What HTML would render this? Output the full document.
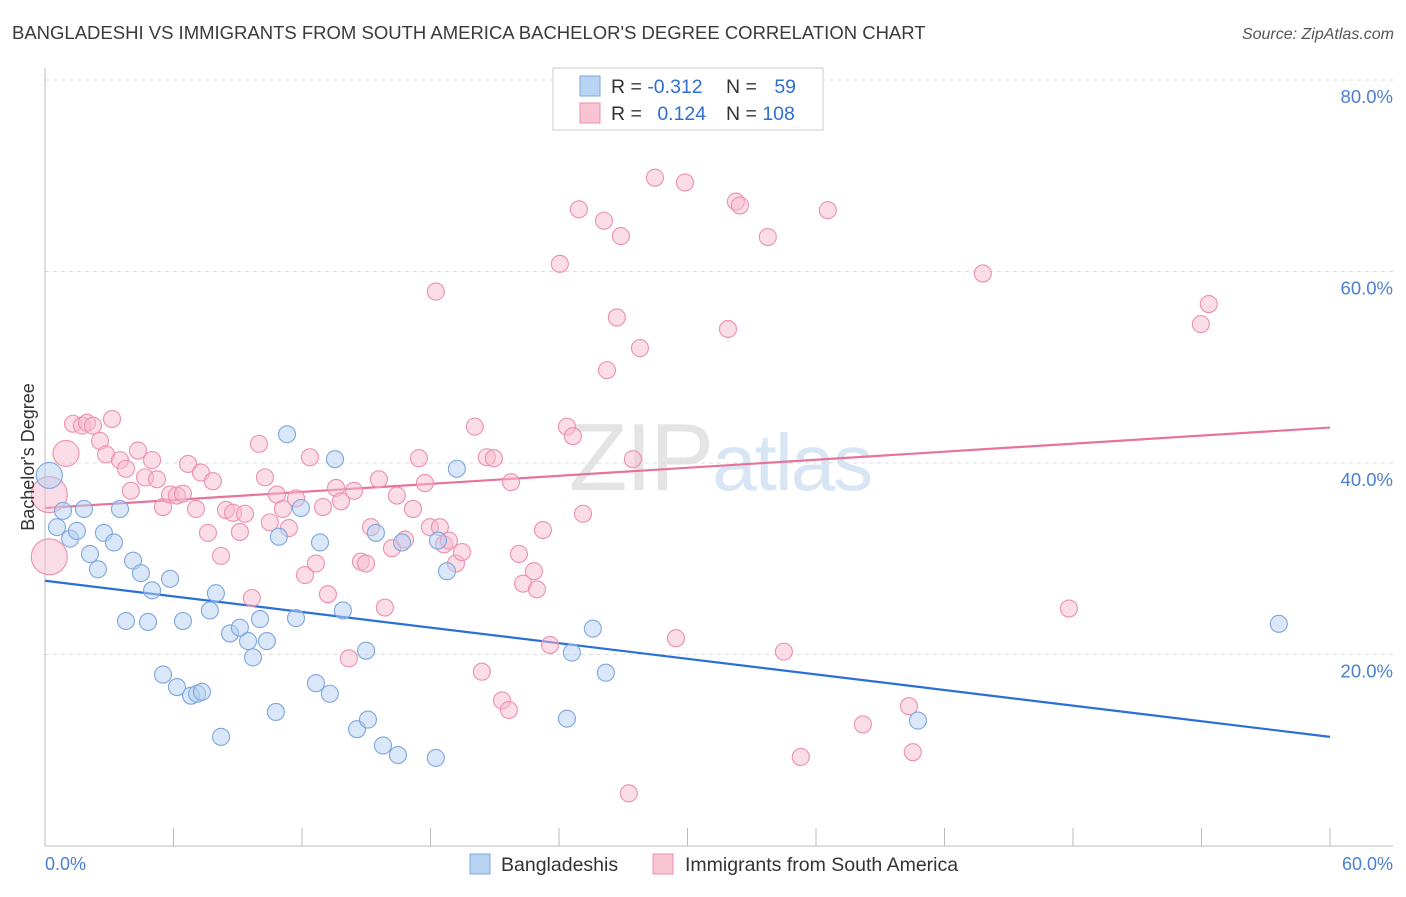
<!DOCTYPE html>
<html><head><meta charset="utf-8">
<style>
body{margin:0;background:#fff;font-family:"Liberation Sans",sans-serif;}
svg text{font-family:"Liberation Sans",sans-serif;}
</style></head>
<body>
<svg id="chart" width="1406" height="892" viewBox="0 0 1406 892" xmlns="http://www.w3.org/2000/svg">
<text x="12" y="39" font-size="18.5" fill="#3a3a3a">BANGLADESHI VS IMMIGRANTS FROM SOUTH AMERICA BACHELOR'S DEGREE CORRELATION CHART</text>
<text x="1394" y="39" font-size="16" fill="#555" font-style="italic" text-anchor="end">Source: ZipAtlas.com</text>
<text x="720" y="490" font-size="96" text-anchor="middle" font-family="Liberation Serif" fill="#e4e4e4" letter-spacing="-2">ZIP<tspan fill="#d8e5f4" font-family="Liberation Sans" font-size="80">atlas</tspan></text>
<g id="grid"></g>
<g id="axes"></g>
<g id="lines"></g>
<g id="points"></g>
<text transform="translate(34,457) rotate(-90)" font-size="18" fill="#333" text-anchor="middle">Bachelor's Degree</text>
<text x="45" y="870" font-size="18" fill="#4a7fd0">0.0%</text>
<text x="1393" y="870" font-size="18" fill="#4a7fd0" text-anchor="end">60.0%</text>
<g>
<rect x="553" y="68" width="270" height="62" fill="#fff" stroke="#ccc"/>
<rect x="580" y="76" width="20" height="20" fill="#b9d3f3" stroke="#7ea6de"/>
<rect x="580" y="103" width="20" height="20" fill="#f8c3d3" stroke="#ee8fab"/>
<text x="611" y="93" font-size="19.5" fill="#333">R = <tspan fill="#2f6fd0">-0.312</tspan></text>
<text x="726" y="93" font-size="19.5" fill="#333">N = <tspan fill="#2f6fd0" dx="12">59</tspan></text>
<text x="611" y="120" font-size="19.5" fill="#333">R = <tspan fill="#2f6fd0" dx="10">0.124</tspan></text>
<text x="726" y="120" font-size="19.5" fill="#333">N = <tspan fill="#2f6fd0">108</tspan></text>
</g>
<g>
<rect x="470" y="854" width="20" height="20" fill="#b9d3f3" stroke="#7ea6de"/>
<text x="501" y="871" font-size="19.5" fill="#333">Bangladeshis</text>
<rect x="653" y="854" width="20" height="20" fill="#f8c3d3" stroke="#ee8fab"/>
<text x="685" y="871" font-size="19.5" fill="#333">Immigrants from South America</text>
</g>
</svg>
<script>
const yTicks=[20,40,60,80];
const yTickLabels=["20.0%","40.0%","60.0%","80.0%"];
const xTicks=[0,6,12,18,24,30,36,42,48,54,60];
const blueX=[0.2,0.56,0.84,1.17,1.49,1.82,2.1,2.47,2.75,3.22,3.5,4.11,4.48,5.0,3.78,4.81,5.84,6.44,5.51,6.16,6.82,7.1,7.33,7.7,7.98,8.22,8.64,9.1,9.48,9.71,10.04,10.36,10.78,10.92,11.3,11.72,11.95,12.65,12.84,13.3,13.54,13.91,14.57,14.99,15.08,15.45,15.78,16.48,16.67,18.25,18.35,18.77,19.23,24.37,24.6,25.58,26.19,40.76,57.61];
const blueY=[38.7,33.3,35.0,32.1,32.9,35.2,30.5,28.9,32.7,31.7,35.2,29.8,28.5,26.7,23.5,23.4,27.9,23.5,17.9,16.6,15.7,15.9,16.1,24.6,26.4,11.4,22.2,22.8,21.4,19.7,23.7,21.4,14.0,32.3,43.0,23.8,35.3,17.0,31.7,15.9,40.4,24.6,12.2,20.4,13.2,32.7,10.5,9.5,31.7,9.2,31.9,28.7,39.4,13.3,20.2,22.7,18.1,13.1,23.2];
const pinkX=[0.2,0.2,0.98,1.31,1.73,1.96,2.24,2.57,2.85,3.13,3.5,3.78,4.01,4.34,4.67,5.0,5.23,5.51,5.84,6.16,6.44,6.68,7.05,7.28,7.61,7.84,8.22,8.45,8.78,9.1,9.34,9.66,9.99,10.27,10.5,10.83,11.11,11.39,11.72,12.14,12.37,12.65,12.98,13.21,13.59,13.82,14.19,14.43,14.75,14.99,15.22,15.59,15.87,16.2,16.43,16.81,17.18,17.46,17.74,17.97,18.25,18.44,18.63,18.86,19.19,19.47,20.07,20.4,20.63,20.96,21.34,21.66,21.76,22.13,22.32,22.83,22.97,23.25,23.58,24.04,24.37,24.65,24.93,25.12,26.1,26.24,26.7,26.89,27.26,27.45,27.78,28.48,29.46,29.88,31.89,32.26,32.45,33.75,34.5,35.29,36.55,38.19,40.34,40.52,43.79,47.81,53.97,54.34];
const pinkY=[36.7,30.2,41.0,44.1,43.9,44.2,43.9,42.3,40.9,44.6,40.3,39.4,37.1,41.3,38.5,40.3,38.3,35.4,36.7,36.6,36.8,39.9,35.2,39.0,32.7,38.1,30.3,35.1,34.8,32.8,34.7,25.9,42.0,38.5,33.8,36.7,35.2,33.2,36.3,28.3,40.6,29.5,35.4,26.3,37.4,36.0,19.6,37.1,29.7,29.5,33.3,38.3,24.9,31.1,36.6,32.0,35.2,40.5,37.9,33.3,57.9,33.3,31.5,31.9,29.5,30.7,43.8,18.2,40.6,40.5,15.2,14.2,38.0,30.5,27.4,28.7,26.8,33.0,21.0,60.8,43.8,42.8,66.5,34.7,65.3,49.7,55.2,63.7,5.5,40.4,52.0,69.8,21.7,69.3,54.0,67.3,66.9,63.6,20.3,9.3,66.4,12.7,14.6,9.8,59.8,24.8,54.5,56.6];
const bigBlue=[0];
const bigPink=[0,1,2];
const trendIntercepts=[27.7,35.3];
const trendSlopes=[-0.2717,0.14];

const NS="http://www.w3.org/2000/svg";
const X0=45,X1=1330,Y0=846,Y80=80;
function sx(v){return X0+(X1-X0)*v/60;}
function sy(v){return Y0-(Y0-Y80)*v/80;}
function mk(tag,attrs,parent){const e=document.createElementNS(NS,tag);for(const k in attrs)e.setAttribute(k,attrs[k]);parent.appendChild(e);return e;}
const grid=document.getElementById('grid'),axes=document.getElementById('axes');
yTicks.forEach((t,i)=>{
 const l=mk('line',{x1:45,x2:1393,y1:sy(t),y2:sy(t),stroke:'#dcdcdc','stroke-dasharray':'4,4'},grid);
 
 
 const tx=mk('text',{x:1393,y:sy(t)+23,'font-size':18.5,fill:'#4a7fd0','text-anchor':'end'},grid);
 tx.textContent=yTickLabels[i];
 
 
});
const ya=mk('line',{x1:45,x2:45,y1:68,y2:846,stroke:'#bbb'},axes);


const xa=mk('line',{x1:45,x2:1393,y1:846,y2:846,stroke:'#bbb'},axes);


xTicks.forEach(t=>{
 const l=mk('line',{x1:sx(t),x2:sx(t),y1:828,y2:846,stroke:'#bbb'},axes);
 
 
});
const lines=document.getElementById('lines'),pts=document.getElementById('points');
function drawPts(xs,ys,bigs,fill,stroke,name){
 xs.forEach((x,i)=>{
  const r=bigs.indexOf(i)>=0?(name==='pink-point'&&i<2?18:13):8.5;
  const c=mk('circle',{cx:sx(x),cy:sy(ys[i]),r:r,fill:fill,'fill-opacity':0.5,stroke:stroke,'stroke-width':1.1},pts);
  
  
 });
}
drawPts(pinkX,pinkY,bigPink,'#f6bccd','#ee8fab','pink-point');
drawPts(blueX,blueY,bigBlue,'#b3cff2','#7ea6de','blue-point');
const cols=['#2a6fd6','#e8739a'],names=['blue-trend-line','pink-trend-line'];
trendIntercepts.forEach((b,i)=>{
 const l=mk('line',{x1:sx(0),y1:sy(b),x2:sx(60),y2:sy(b+trendSlopes[i]*60),stroke:cols[i],'stroke-width':2.2},lines);
 
 
});
</script>
</body></html>
